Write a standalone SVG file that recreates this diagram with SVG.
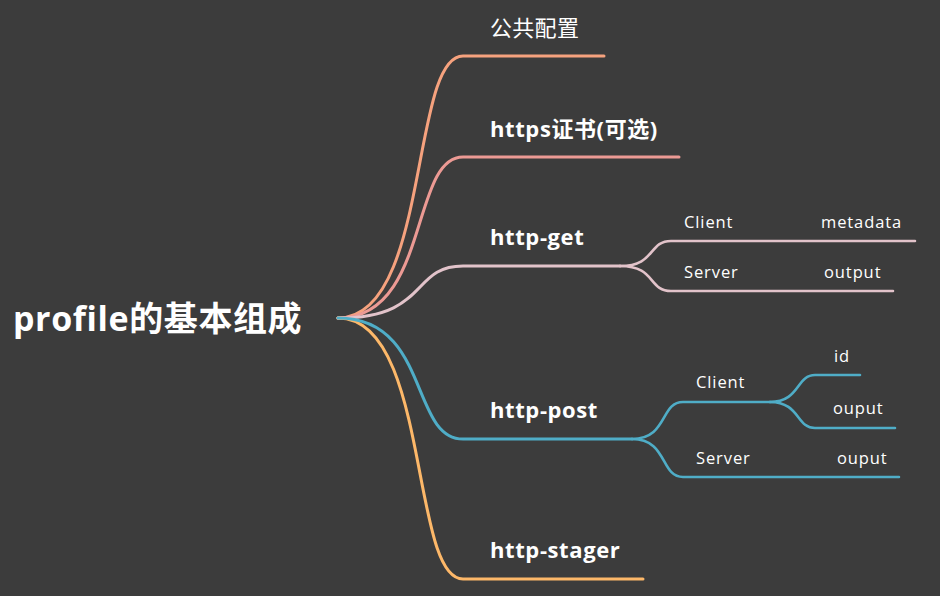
<svg xmlns="http://www.w3.org/2000/svg" width="940" height="596" viewBox="0 0 940 596">
<style>
.t{font-family:"Open Sans","Noto Sans CJK SC",sans-serif;fill:#ffffff}
.root{font-size:34px;font-weight:700;letter-spacing:0.6px}
.main{font-size:22px;font-weight:700;letter-spacing:0.6px}
.mainr{font-size:22px;font-weight:400;letter-spacing:0.3px}
.sub{font-size:16.5px;font-weight:400;letter-spacing:0.9px}
.c{fill:none;stroke-linecap:round}
.w3{stroke-width:3}
.w2{stroke-width:2.6}
.b1{stroke:#F6A27E}
.b2{stroke:#EC9A94}
.b3{stroke:#E2C3CA}
.b4{stroke:#4FADC7}
.b5{stroke:#FDB869}
</style>
<rect x="0" y="0" width="940" height="596" fill="#3c3c3c"/>
<g id="connectors">
<path class="c w3 b1" d="M338,318 C430,318 410,56 463,56 H604"/>
<path class="c w3 b2" d="M338,318 C430,318 410,157 463,157 H679"/>
<path class="c w3 b3" d="M338,318 C430,318 410,266 463,266 H620"/>
<path class="c w3 b5" d="M338,318 C430,318 410,579 463,579 H643"/>
<path class="c w3 b4" d="M338,318 C430,318 410,439 463,439 H632"/>
<path class="c w2 b3" d="M620,266 C656,266 648,241 671,241 H915"/>
<path class="c w2 b3" d="M620,266 C656,266 648,291 671,291 H893"/>
<path class="c w2 b4" d="M632,439 C668,439 660,402 683,402 H770"/>
<path class="c w2 b4" d="M632,439 C668,439 660,477 683,477 H899"/>
<path class="c w2 b4" d="M770,402 C800,402 796,375 815,375 H860"/>
<path class="c w2 b4" d="M770,402 C800,402 796,428 815,428 H895"/>
</g>
<g id="root"><text class="t root" x="13" y="331">profile的基本组成</text></g>
<g id="n-common"><text class="t mainr" x="490" y="36">公共配置</text></g>
<g id="n-https"><text class="t main" x="490" y="137">https证书(可选)</text></g>
<g id="n-get"><text class="t main" x="490" y="245">http-get</text></g>
<g id="n-get-client"><text class="t sub" x="684" y="228">Client</text></g>
<g id="n-get-metadata"><text class="t sub" x="821" y="228">metadata</text></g>
<g id="n-get-server"><text class="t sub" x="684" y="278">Server</text></g>
<g id="n-get-output"><text class="t sub" x="824" y="278">output</text></g>
<g id="n-post"><text class="t main" x="490" y="418">http-post</text></g>
<g id="n-post-client"><text class="t sub" x="696" y="388">Client</text></g>
<g id="n-post-id"><text class="t sub" x="834" y="362">id</text></g>
<g id="n-post-ouput1"><text class="t sub" x="833" y="414">ouput</text></g>
<g id="n-post-server"><text class="t sub" x="696" y="464">Server</text></g>
<g id="n-post-ouput2"><text class="t sub" x="837" y="464">ouput</text></g>
<g id="n-stager"><text class="t main" x="490" y="558">http-stager</text></g>
</svg>
